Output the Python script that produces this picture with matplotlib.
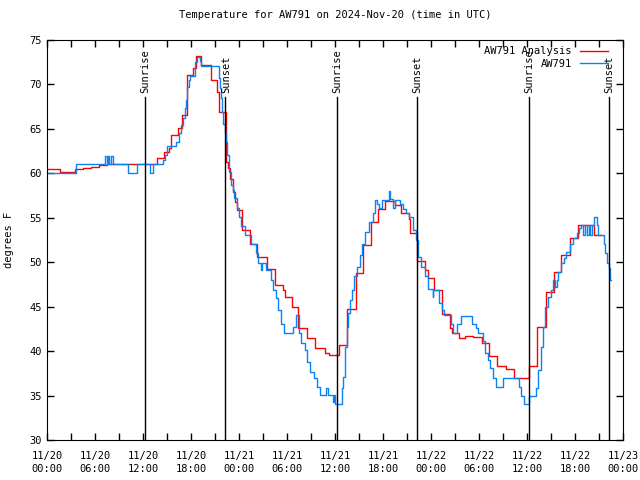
import numpy as np
import matplotlib
matplotlib.use('Agg')
import matplotlib.pyplot as plt
from matplotlib.ticker import MultipleLocator

########
# Data #
########
# hours since 2024-11-20 00:00 UTC
analysis_hours = [0.0, 1.6, 2.5, 3.5, 4.5, 5.5, 6.5, 7.5, 8.5, 13.7, 14.6, 15.3, 15.5, 16.4, 16.9, 17.5,
                  18.3, 18.6, 19.3, 20.5, 21.3, 21.5, 22.4, 22.6, 22.9, 23.2, 23.5, 23.8, 24.4, 25.4, 26.3,
                  27.5, 28.5, 29.5, 29.8, 30.6, 31.4, 32.5, 33.5, 34.7, 35.2, 36.5, 37.5, 38.6, 39.5, 40.5,
                  41.4, 42.3, 43.5, 44.3, 45.2, 45.4, 46.3, 47.3, 47.6, 48.4, 49.4, 50.4, 50.6, 51.5, 52.3,
                  53.3, 54.4, 55.3, 56.3, 57.4, 58.4, 59.3, 60.2, 61.3, 62.4, 63.4, 64.3, 65.4, 66.4, 68.4, 69.2]
analysis_temp = [60.45, 60.1, 60.2, 60.45, 60.6, 60.75, 60.9, 61.05, 61.1, 61.7, 62.45, 62.8, 64.3, 65.05, 66.55, 71.05,
                 71.8, 73.2, 72.2, 70.5, 69.2, 66.9, 61.3, 60.6, 59.4, 57.9, 56.8, 55.9, 53.6, 52.05, 50.6,
                 49.2, 47.45, 46.9, 46.1, 45.0, 42.55, 41.45, 40.3, 39.75, 39.6, 40.7, 44.7, 48.75, 51.95, 54.55,
                 55.95, 56.9, 56.45, 55.5, 54.9, 53.25, 50.1, 49.1, 48.2, 46.9, 44.2, 42.55, 42.0, 41.45, 41.7,
                 41.55, 40.9, 39.4, 38.3, 37.95, 36.95, 37.0, 38.3, 42.7, 46.7, 48.95, 50.8, 52.7, 54.2, 53.05, 53.05]

obs_hours = [0.0, 3.6, 7.3, 7.45, 7.6, 7.75, 8.0, 8.2, 10.1, 11.3, 12.9, 13.3, 14.5, 14.7, 15.0, 16.1, 16.5,
             16.8, 17.0, 17.2, 17.4, 17.5, 17.7, 17.9, 18.5, 18.7, 19.1, 19.3, 21.5, 21.6, 21.7, 21.9, 22.0,
             22.2, 22.4, 22.5, 22.8, 23.0, 23.2, 23.4, 23.7, 24.0, 24.2, 24.8, 25.5, 26.1, 26.4, 26.7, 26.9,
             27.4, 28.0, 28.3, 28.6, 28.9, 29.2, 29.6, 30.8, 31.1, 31.5, 31.8, 32.2, 32.5, 32.9, 33.4, 33.7,
             34.1, 34.9, 35.1, 35.7, 35.9, 36.0, 36.9, 37.0, 37.2, 37.3, 37.5, 37.6, 37.9, 38.1, 38.4, 38.8,
             39.1, 39.4, 39.8, 40.2, 40.7, 41.0, 41.3, 41.5, 41.9, 42.7, 42.9, 43.3, 43.5, 44.1, 44.5, 44.9,
             45.3, 45.7, 46.1, 46.4, 46.8, 47.3, 47.6, 48.2, 48.3, 49.0, 49.4, 49.6, 50.5, 50.7, 51.3, 51.7,
             53.1, 53.6, 53.9, 54.5, 54.8, 55.1, 55.4, 55.8, 56.1, 57.0, 59.0, 59.3, 59.6, 60.3, 61.1, 61.4,
             61.7, 62.0, 62.3, 62.6, 63.0, 63.3, 63.5, 63.7, 63.9, 64.3, 64.6, 64.9, 65.4, 65.8, 66.2, 66.5,
             66.8, 67.0, 67.2, 67.5, 67.7, 67.9, 68.1, 68.4, 68.7, 68.9, 69.6, 69.8, 69.95, 70.2, 70.4, 70.5]
obs_temp = [60.0, 61.05, 62.0, 61.05, 62.0, 61.05, 62.0, 61.05, 60.0, 61.05, 60.0, 61.05, 61.5, 62.05, 63.1, 63.55, 64.5,
            65.4, 66.2, 67.3, 68.25, 69.75, 70.5, 71.0, 72.55, 73.05, 72.6, 72.1, 70.7, 69.6, 68.45, 66.9, 65.6,
            64.5, 63.55, 62.05, 60.2, 58.7, 58.1, 57.2, 56.05, 55.1, 54.1, 53.05, 52.1, 51.0, 49.9, 49.1, 49.95,
            49.1, 48.0, 46.9, 45.95, 44.6, 43.1, 42.0, 42.75, 44.05, 42.0, 40.9, 40.1, 38.8, 37.7, 36.95, 36.0,
            35.05, 35.9, 35.05, 34.3, 35.05, 34.05, 35.8, 37.1, 39.0, 40.5, 42.75, 44.25, 45.75, 46.9, 48.4, 49.5,
            50.8, 52.1, 53.45, 54.55, 55.5, 57.0, 56.5, 56.05, 57.0, 58.05, 57.1, 56.05, 57.0, 56.5, 56.0, 55.5,
            55.1, 53.6, 52.5, 50.6, 49.5, 48.4, 47.0, 46.1, 46.9, 45.4, 44.6, 44.05, 43.1, 42.0, 43.1, 44.0,
            43.1, 42.55, 42.0, 41.1, 39.75, 39.0, 38.05, 36.95, 36.0, 36.95, 36.0, 34.9, 34.05, 34.9, 35.9, 37.9,
            40.5, 42.75, 45.0, 46.05, 46.9, 48.0, 47.2, 48.0, 48.95, 49.95, 50.45, 51.1, 52.1, 52.7, 53.25, 53.8,
            54.2, 53.05, 54.2, 53.05, 54.2, 53.05, 54.2, 55.05, 54.2, 53.05, 52.1, 51.0, 49.9, 49.4, 48.0, 48.0]

sun_hours = [12.2, 22.3, 36.2, 46.2, 60.2, 70.2]
sun_labels = ['Sunrise', 'Sunset', 'Sunrise', 'Sunset', 'Sunrise', 'Sunset']

tick_hours = list(range(0, 73, 6))
tick_labels = ['11/20\n00:00', '11/20\n06:00', '11/20\n12:00', '11/20\n18:00',
               '11/21\n00:00', '11/21\n06:00', '11/21\n12:00', '11/21\n18:00',
               '11/22\n00:00', '11/22\n06:00', '11/22\n12:00', '11/22\n18:00', '11/23\n00:00']

#########
# Plot #
#########
plt.rcParams['font.family'] = ['DejaVu Sans Mono']
fs = 7.5

fig = plt.figure( figsize = ( 6.4, 4.8 ), dpi = 100 )
ax = fig.add_axes( [47 / 640, 40 / 480, 576 / 640, 400 / 480] )

ax.plot( analysis_hours, analysis_temp, color = '#ff0000', lw = 1.0, drawstyle = 'steps-post', label = 'AW791 Analysis' )
ax.plot( obs_hours, obs_temp, color = '#0a84f5', lw = 1.0, drawstyle = 'steps-post', label = 'AW791' )

for h, lab in zip( sun_hours, sun_labels ):
	ax.plot( [h, h], [30, 68.6], color = 'black', lw = 1.0 )
	ax.text( h + 0.1, 69.0, lab, rotation = 90, ha = 'center', va = 'bottom', fontsize = fs )

ax.set_xlim( 0, 72 )
ax.set_ylim( 30, 75 )
ax.set_xticks( tick_hours )
ax.set_xticklabels( tick_labels, fontsize = fs, linespacing = 1.3 )
ax.xaxis.set_minor_locator( MultipleLocator( 3 ) )
ax.yaxis.set_major_locator( MultipleLocator( 5 ) )
ax.tick_params( axis = 'both', which = 'both', direction = 'in', top = True, right = True, length = 5, width = 1, labelsize = fs )
ax.tick_params( axis = 'x', pad = 8 )
ax.set_ylabel( 'degrees F', fontsize = fs, labelpad = 11 )
ax.set_title( 'Temperature for AW791 on 2024-Nov-20 (time in UTC)', fontsize = fs, pad = 16 )

leg = ax.legend( loc = 'upper right', frameon = False, markerfirst = False, fontsize = fs,
                 handlelength = 2.7, handletextpad = 0.8, labelspacing = 0.25,
                 borderaxespad = 0.2, bbox_to_anchor = ( 0.985, 1.0 ) )

fig.savefig( 'out.png', dpi = 100 )
